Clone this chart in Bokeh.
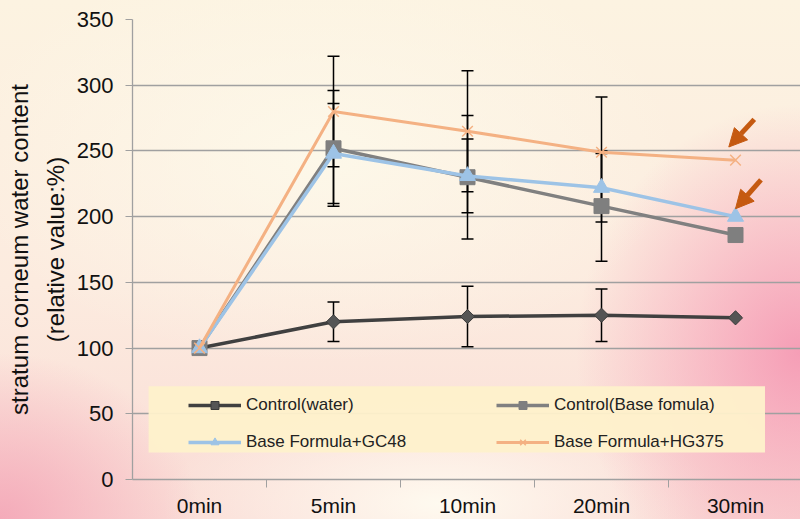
import math
from bokeh.plotting import figure
from bokeh.models import (Range1d, FixedTicker, ColumnDataSource, Whisker, TeeHead, Legend,
                          LegendItem, BoxAnnotation, Arrow, NormalHead, GlobalInlineStyleSheet,
                          LinearAxis)
from bokeh.embed import file_html
from bokeh.resources import INLINE

# ---------------- data ----------------
times = ["0min", "5min", "10min", "20min", "30min"]
water = [100, 120, 124, 125, 123]
base = [100, 252, 230, 208, 186]
gc48 = [100, 248, 231, 222, 200]
hg375 = [100, 280, 265, 249, 243]

err_pos = [1, 2, 3]
water_err = [15, 23, 20]
base_err = [44, 47, 42]
gc48_err = [38, 28, 26]
hg375_err = [42, 46, 42]

y_ticks = [0, 50, 100, 150, 200, 250, 300, 350]
names = ["Control(water)", "Control(Base fomula)", "Base Formula+GC48", "Base Formula+HG375"]
y_title_1 = "stratum corneum water content"
y_title_2 = "(relative value:%)"

FONT = "Liberation Sans"
x = list(range(len(times)))

p = figure(width=800, height=519, output_backend="svg", toolbar_location=None,
           x_range=Range1d(-0.5, 4.485), y_range=Range1d(0, 350),
           min_border_left=132, min_border_right=0, min_border_top=19, min_border_bottom=40)
p.border_fill_color = None
p.background_fill_color = None
p.outline_line_color = None

p.stylesheets = [GlobalInlineStyleSheet(css="""
html { min-height: 100%;
 background:
  radial-gradient(ellipse 28% 48% at 100% 68%, rgba(245,150,178,0.9) 0%, rgba(245,150,178,0) 100%),
  radial-gradient(ellipse 25% 32% at 0% 100%, rgba(244,168,184,0.95) 0%, rgba(244,168,184,0) 100%),
  radial-gradient(ellipse 35% 20% at 55% 97%, rgba(255,253,242,0.9) 0%, rgba(255,253,242,0) 100%),
  radial-gradient(ellipse 45% 40% at 40% 30%, rgba(253,249,234,0.9) 0%, rgba(253,249,234,0) 100%),
  linear-gradient(180deg, #fcf3e1 0%, #fcebdf 55%, #fadcd6 100%);
}
""")]

# axes
p.yaxis.ticker = FixedTicker(ticks=y_ticks)
p.xaxis.ticker = FixedTicker(ticks=x, minor_ticks=[0.5, 1.5, 2.5, 3.5])
p.xaxis.major_label_overrides = {i: t for i, t in enumerate(times)}
for ax in (p.xaxis[0], p.yaxis[0]):
    ax.axis_line_color = "#a0a0a0"
    ax.axis_line_width = 1.3
    ax.major_tick_line_color = "#a0a0a0"
    ax.minor_tick_line_color = "#a0a0a0"
    ax.major_label_text_font = FONT
    ax.major_label_text_font_size = "22px"
    ax.major_label_text_color = "#111111"
p.yaxis.major_tick_out = 7
p.yaxis.major_tick_in = 0
p.yaxis.minor_tick_out = 0
p.yaxis.major_label_standoff = 12
p.yaxis.axis_label = y_title_2
p.yaxis.axis_label_standoff = 5
p.yaxis.axis_label_text_font = FONT
p.yaxis.axis_label_text_font_size = "24px"
p.yaxis.axis_label_text_font_style = "normal"
p.yaxis.axis_label_text_color = "#111111"

outer = LinearAxis(ticker=FixedTicker(ticks=[]), axis_line_color=None,
                   major_tick_out=0, major_tick_in=0, minor_tick_out=0, minor_tick_in=0,
                   major_label_standoff=0, major_label_text_font_size="0px",
                   axis_label=y_title_1, axis_label_standoff=6,
                   axis_label_text_font=FONT, axis_label_text_font_size="24px",
                   axis_label_text_font_style="normal", axis_label_text_color="#111111")
p.add_layout(outer, "left")

p.xaxis.major_tick_out = 0
p.xaxis.major_tick_in = 0
p.xaxis.minor_tick_out = 8
p.xaxis.minor_tick_in = 0
p.xaxis.major_label_standoff = 6
p.xaxis.major_label_text_font_size = "21px"

p.xgrid.grid_line_color = None
p.ygrid.grid_line_color = "#a0a0a0"
p.ygrid.grid_line_width = 1.3

# legend background box
p.add_layout(BoxAnnotation(left=-0.38, right=4.22, bottom=20.5, top=71,
                           fill_color="#fef1cb", fill_alpha=0.95, line_color=None, level="underlay"))

# error bars
for vals, errs in ((water, water_err), (base, base_err), (gc48, gc48_err), (hg375, hg375_err)):
    src = ColumnDataSource(dict(x=err_pos,
                                upper=[vals[i] + e for i, e in zip(err_pos, errs)],
                                lower=[vals[i] - e for i, e in zip(err_pos, errs)]))
    w = Whisker(source=src, base="x", upper="upper", lower="lower", dimension="height",
                line_color="black", line_width=1.5,
                upper_head=TeeHead(size=12, line_color="black", line_width=1.5),
                lower_head=TeeHead(size=12, line_color="black", line_width=1.5))
    p.add_layout(w)

# series
items = []
r1 = p.line(x, water, line_color="#404040", line_width=3.5)
m1 = p.scatter(x, water, marker="square", angle=math.pi / 4, size=10,
               fill_color="#555555", line_color="#3a3a3a", line_width=1)
r2 = p.line(x, base, line_color="#808080", line_width=3.5)
m2 = p.scatter(x, base, marker="square", size=15, fill_color="#7f7f7f", line_color="#7f7f7f")
r3 = p.line(x, gc48, line_color="#9dc3e6", line_width=3.5)
m3 = p.scatter(x, gc48, marker="triangle", size=16, fill_color="#9dc3e6", line_color="#9dc3e6")
r4 = p.line(x, hg375, line_color="#f4b183", line_width=3)
m4 = p.scatter(x, hg375, marker="x", size=15, line_color="#f4b183", line_width=1.5)

for name, rs in zip(names, [[r1, m1], [r2, m2], [r3, m3], [r4, m4]]):
    items.append(LegendItem(label=name, renderers=rs))

legend = Legend(items=items, location=(56, 27), orientation="horizontal", ncols=2,
                glyph_width=53, glyph_height=20, label_height=20, label_width=233,
                label_standoff=5, spacing=17, padding=0, margin=0,
                background_fill_alpha=0, border_line_color=None,
                label_text_font=FONT, label_text_font_size="17px", label_text_color="#222222")
p.add_layout(legend)

# arrows pointing at 30min points (offsets from the data points)
last = len(times) - 1
for val, dx0, dy0, dx1, dy1 in ((hg375[-1], -0.05, 10, 0.14, 31), (gc48[-1], 0.0, 6, 0.19, 28)):
    p.add_layout(Arrow(x_start=last + dx1, y_start=val + dy1, x_end=last + dx0, y_end=val + dy0,
                       line_color="#c55a11", line_width=5,
                       end=NormalHead(size=18, fill_color="#c55a11", line_color="#c55a11")))

open("out.html", "w").write(file_html(p, INLINE))
